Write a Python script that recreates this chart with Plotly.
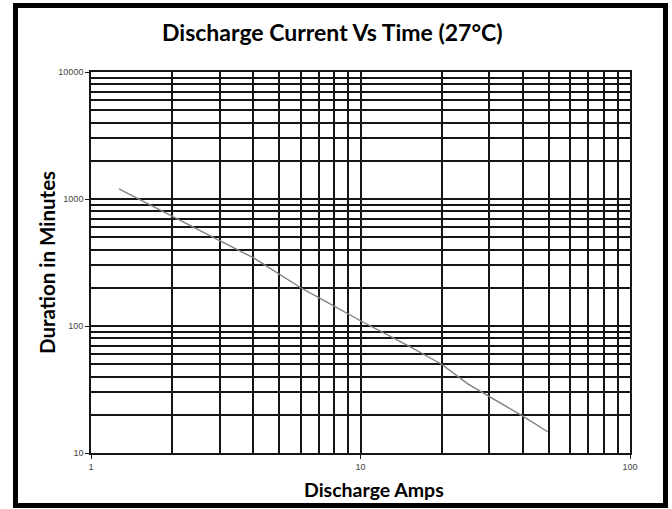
import plotly.graph_objects as go

# Data
amps = [1.27, 2, 3, 4, 5, 6, 7, 8, 10, 15, 20, 25, 30, 40, 49.5]
minutes = [1200, 726, 470, 345, 255, 200, 167, 143, 110, 70, 50, 35, 28, 19.5, 14.7]

x_tickvals = [1, 10, 100]
x_ticktext = ["1", "10", "100"]
y_tickvals = [10, 100, 1000, 10000]
y_ticktext = ["10", "100", "1000", "10000"]
x_minor = [m * d for d in (1, 10) for m in range(2, 10)]
y_minor = [m * d for d in (10, 100, 1000) for m in range(2, 10)]

title_text = "Discharge Current Vs Time (27°C)"
x_title = "Discharge Amps"
y_title = "Duration in Minutes"

W, H = 672, 509
L, R, T, B = 91, 630, 72, 453

GRID = "#151515"
GW = 1.6

fig = go.Figure()
fig.add_trace(go.Scatter(x=amps, y=minutes, mode="lines",
                         line=dict(color="#808080", width=1.4),
                         hoverinfo="skip", showlegend=False))

common = dict(showgrid=True, gridcolor=GRID, gridwidth=GW,
              showline=True, linecolor=GRID, linewidth=GW, mirror=True,
              ticks="outside", ticklen=4, tickcolor=GRID, tickwidth=1,
              tickfont=dict(family="Liberation Sans", size=9, color="#444"),
              zeroline=False)

fig.update_xaxes(type="log", range=[0, 2], tickmode="array",
                 tickvals=x_tickvals, ticktext=x_ticktext,
                 minor=dict(tickmode="array", tickvals=x_minor, showgrid=True,
                            gridcolor=GRID, gridwidth=GW, ticks=""),
                 **common)
fig.update_yaxes(type="log", range=[1, 4], tickmode="array",
                 tickvals=y_tickvals, ticktext=y_ticktext,
                 minor=dict(tickmode="array", tickvals=y_minor, showgrid=True,
                            gridcolor=GRID, gridwidth=GW, ticks=""),
                 **common)

def px(x):
    return (x - L) / (R - L)

def py(y):
    return (B - y) / (B - T)

fig.add_shape(type="rect", xref="paper", yref="paper",
              x0=px(15.5), x1=px(665.5), y0=py(505.5), y1=py(5.5),
              line=dict(color="black", width=5), fillcolor="rgba(0,0,0,0)",
              layer="above")

fig.add_annotation(text=title_text, xref="paper", yref="paper",
                   x=px(332), y=py(32), showarrow=False,
                   xanchor="center", yanchor="middle",
                   font=dict(family="Lato", size=23, color="black", weight="bold"))
fig.add_annotation(text=x_title, xref="paper", yref="paper",
                   x=px(374), y=py(489), showarrow=False,
                   xanchor="center", yanchor="middle",
                   font=dict(family="Lato", size=19.5, color="black", weight="bold"))
fig.add_annotation(text=y_title, xref="paper", yref="paper",
                   x=px(47), y=py(263), showarrow=False, textangle=-90,
                   xanchor="center", yanchor="middle",
                   font=dict(family="Lato", size=20.5, color="black", weight="bold"))

fig.update_layout(width=W, height=H,
                  margin=dict(l=L, r=W - R, t=T, b=H - B, pad=0),
                  paper_bgcolor="white", plot_bgcolor="white",
                  showlegend=False)

fig.write_html("out.html", config={"displayModeBar": False},
               post_script="document.body.style.margin='0';document.body.style.overflow='hidden';")
